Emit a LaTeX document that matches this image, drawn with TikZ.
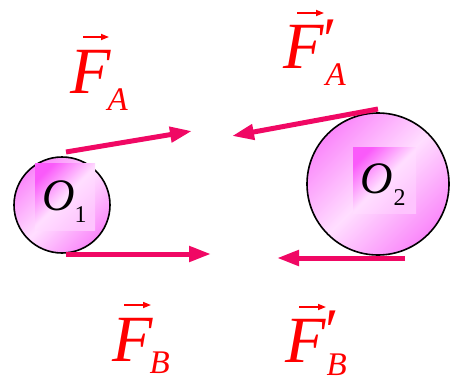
\documentclass[tikz,border=0pt]{standalone}
\usepackage{fontspec}
\setmainfont{Liberation Serif}
\usetikzlibrary{arrows.meta}
\definecolor{beltpink}{RGB}{240,8,100}
\definecolor{lblred}{RGB}{255,0,0}
\definecolor{wheeldark}{RGB}{250,135,250}
\definecolor{wheellight}{RGB}{255,222,255}
\definecolor{boxdark}{RGB}{250,90,250}
\tikzset{
  x=1pt, y=-1pt,
  wheel/.style={circle, draw=black, line width=1.6pt, shading=axis,
    top color=wheeldark, bottom color=wheeldark, middle color=wheellight, shading angle=45},
  labelbox/.style={rectangle, inner sep=0pt, shading=axis, top color=boxdark,
    bottom color=wheellight!80!boxdark, middle color=wheellight, shading angle=45},
  belt/.style={draw=beltpink, line width=5pt,
    -{Triangle[length=22pt, width=15pt]}},
  vecarrow/.style={draw=lblred, line width=1.6pt, -{Triangle[length=8pt, width=6pt]}},
  force/.style={text=lblred, inner sep=0pt, anchor=base west,
    font=\fontsize{66}{66}\selectfont\itshape},
  oname/.style={inner sep=0pt, anchor=base west, font=\fontsize{45}{45}\selectfont\itshape}
}
\newcommand{\subtx}[2]{\raisebox{-#1pt}{\fontsize{33}{33}\selectfont #2}}
\newcommand{\primetx}[1]{\rlap{\raisebox{#1pt}{\fontsize{62}{62}\selectfont\upshape ′}}}
\begin{document}
\begin{tikzpicture}
\useasboundingbox (0,0) rectangle (452,380);
% wheels
\node[wheel, minimum size=96pt] (w1) at (62,205) {};
\node[labelbox, minimum width=60pt, minimum height=67pt] (b1) at (65,196.5) {};
\node[oname] (o1) at (42,210) {O\kern0pt\raisebox{-12pt}{\fontsize{24}{24}\selectfont\upshape 1}};
\node[wheel, minimum size=142pt] (w2) at (378,184) {};
\node[labelbox, minimum width=63pt, minimum height=66pt] (b2) at (384.5,180) {};
\node[oname] (o2) at (360,193) {O\kern1pt\raisebox{-12pt}{\fontsize{24}{24}\selectfont\upshape 2}};
% belt force arrows
\coordinate (ta1) at (66,152);
\coordinate (ta2) at (192,131);
\coordinate (tb1) at (378,109);
\coordinate (tb2) at (232,136);
\coordinate (ba1) at (66,254);
\coordinate (ba2) at (211,254);
\coordinate (bb1) at (405,258);
\coordinate (bb2) at (277,258);
\draw[belt] (ta1) -- (ta2);
\draw[belt] (tb1) -- (tb2);
\draw[belt] (ba1) -- (ba2);
\draw[belt] (bb1) -- (bb2);
% labels
\node[force] (fa) at (70,93) {F\kern-3pt\subtx{17}{A}};
\node[force] (fa2) at (283,68) {F\primetx{8}\kern2pt\subtx{17}{A}};
\node[force] (fb) at (112,361) {F\kern-3pt\subtx{12}{B}};
\node[force] (fb2) at (285,362) {F\primetx{11}\kern1pt\subtx{13}{B}};
% vector arrows
\coordinate (va1) at (83,37);  \coordinate (va2) at (109,37);
\coordinate (vb1) at (297,13); \coordinate (vb2) at (324,13);
\coordinate (vc1) at (124,305); \coordinate (vc2) at (151,305);
\coordinate (vd1) at (299,307); \coordinate (vd2) at (326,307);
\draw[vecarrow] (va1) -- (va2);
\draw[vecarrow] (vb1) -- (vb2);
\draw[vecarrow] (vc1) -- (vc2);
\draw[vecarrow] (vd1) -- (vd2);
\end{tikzpicture}
\end{document}
